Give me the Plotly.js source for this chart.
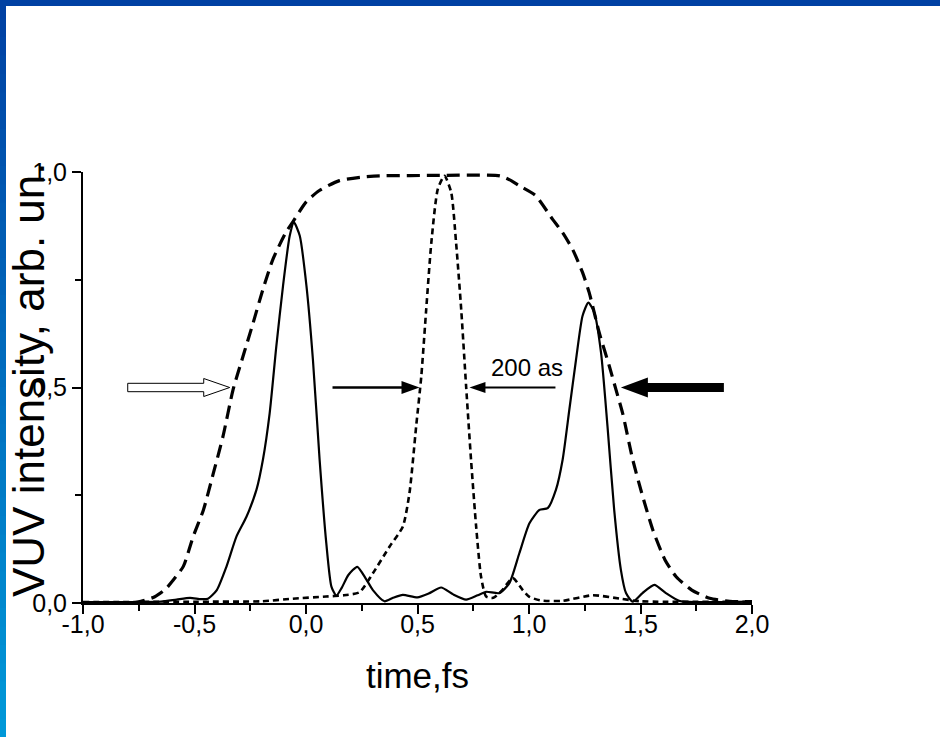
<!DOCTYPE html>
<html>
<head>
<meta charset="utf-8">
<script src="https://cdn.plot.ly/plotly-3.0.1.min.js"></script>
<style>html,body{margin:0;padding:0;background:#fff;}#chart{width:940px;height:737px;}</style>
</head>
<body>
<div id="chart"></div>
<script>
// ---- data ----
const envTime = [-0.78,-0.74,-0.68,-0.63,-0.596,-0.55,-0.506,-0.46,-0.416,-0.372,-0.327,-0.282,-0.237,-0.193,-0.148,-0.09,-0.058,0.0,0.06,0.15,0.25,0.33,0.6,0.87,0.92,0.957,1.03,1.106,1.15,1.196,1.24,1.27,1.315,1.36,1.39,1.42,1.465,1.51,1.555,1.61,1.66,1.73,1.81,1.9,2.0];
const envIntensity = [0.0,0.004,0.014,0.032,0.053,0.085,0.154,0.216,0.30,0.387,0.495,0.573,0.65,0.728,0.798,0.86,0.885,0.93,0.957,0.98,0.988,0.991,0.992,0.991,0.98,0.968,0.945,0.89,0.86,0.82,0.767,0.72,0.627,0.55,0.495,0.44,0.333,0.247,0.17,0.10,0.061,0.03,0.011,0.004,0.003];

const trainTime = [-1.0,-0.8,-0.65,-0.58,-0.52,-0.47,-0.44,-0.40,-0.357,-0.312,-0.267,-0.222,-0.193,-0.163,-0.133,-0.103,-0.073,-0.054,-0.028,0.002,0.031,0.061,0.091,0.114,0.136,0.16,0.19,0.23,0.27,0.30,0.352,0.39,0.434,0.50,0.55,0.606,0.66,0.718,0.77,0.808,0.867,0.912,0.957,1.002,1.047,1.084,1.121,1.151,1.181,1.211,1.24,1.266,1.293,1.323,1.352,1.382,1.412,1.435,1.465,1.509,1.562,1.614,1.673,1.75,2.0];
const trainIntensity = [0.002,0.002,0.003,0.008,0.012,0.009,0.01,0.03,0.084,0.154,0.20,0.263,0.333,0.44,0.596,0.736,0.852,0.883,0.852,0.736,0.565,0.333,0.139,0.038,0.017,0.035,0.065,0.084,0.055,0.03,0.004,0.012,0.019,0.013,0.022,0.036,0.02,0.008,0.018,0.026,0.023,0.046,0.116,0.185,0.216,0.22,0.263,0.333,0.449,0.565,0.666,0.697,0.674,0.581,0.41,0.216,0.077,0.023,0.003,0.023,0.042,0.023,0.005,0.002,0.003];

const attoTime = [-1.0,-0.5,-0.2,-0.06,0.09,0.17,0.24,0.30,0.375,0.434,0.464,0.494,0.517,0.539,0.562,0.591,0.621,0.651,0.673,0.696,0.718,0.74,0.763,0.785,0.808,0.84,0.88,0.927,0.972,1.0,1.05,1.15,1.285,1.41,1.5,2.0];
const attoIntensity = [0.002,0.003,0.004,0.01,0.015,0.018,0.025,0.069,0.131,0.177,0.255,0.41,0.526,0.681,0.836,0.96,0.991,0.953,0.836,0.681,0.503,0.333,0.177,0.061,0.015,0.012,0.03,0.058,0.03,0.015,0.006,0.005,0.018,0.01,0.004,0.003];

const xTickVals = [-1,-0.5,0,0.5,1,1.5,2];
const xTickText = ['-1,0','-0,5','0,0','0,5','1,0','1,5','2,0'];
const xMinorVals = [-0.75,-0.25,0.25,0.75,1.25,1.75];
const yTickVals = [0,0.5,1];
const yTickText = ['0,0','0,5','1,0'];
const yMinorVals = [0.25,0.75];

const xTitle = 'time,fs';
const yTitle = 'VUV intensity, arb. un.';
const widthLabel = '200 as';

// ---- layout geometry ----
const W = 940, H = 737;
const M = {l: 83, r: 188, t: 172, b: 134, pad: 0};
const pw = W - M.l - M.r, ph = H - M.t - M.b;
const pxX = p => (p - M.l) / pw;
const pxY = p => (H - M.b - p) / ph;
const FONT = 'Arial, "Liberation Sans", sans-serif';

const traces = [
  {x: envTime, y: envIntensity, mode: 'lines', line: {color: '#000', width: 3.2, dash: '13px,7px', shape: 'spline', smoothing: 0.6}},
  {x: trainTime, y: trainIntensity, mode: 'lines', line: {color: '#000', width: 2.2, shape: 'spline', smoothing: 0.6}},
  {x: attoTime, y: attoIntensity, mode: 'lines', line: {color: '#000', width: 2.6, dash: '6px,4px', shape: 'spline', smoothing: 0.6}}
];

// decorative slide frame (top bar + gradient left bar)
const shapes = [];
shapes.push({type: 'rect', xref: 'paper', yref: 'paper', x0: pxX(0), x1: pxX(W), y0: pxY(0), y1: pxY(6), fillcolor: '#0041A3', line: {width: 0}, layer: 'above'});
const nSeg = 40;
for (let i = 0; i < nSeg; i++) {
  const f = i / (nSeg - 1);
  const r = 0, g = Math.round(65 + f * (152 - 65)), b = Math.round(163 + f * (216 - 163));
  shapes.push({type: 'rect', xref: 'paper', yref: 'paper', x0: pxX(0), x1: pxX(6),
    y0: pxY(i * H / nSeg), y1: pxY((i + 1) * H / nSeg + 1), fillcolor: `rgb(${r},${g},${b})`, line: {width: 0}, layer: 'above'});
}

// arrows (pixel-sized shapes anchored at their tips in data coordinates)
const arrowTip = (x, y, path, fill, lw) => ({type: 'path', xref: 'x', yref: 'y', xsizemode: 'pixel', ysizemode: 'pixel',
  xanchor: x, yanchor: y, path: path, fillcolor: fill, line: {color: '#000', width: lw}, layer: 'above'});
shapes.push(arrowTip(-0.342, 0.5, 'M0,0 L-26,9 L-26,4.2 L-102,4.2 L-102,-4.2 L-26,-4.2 L-26,-9 Z', '#fff', 1));
shapes.push(arrowTip(0.509, 0.5, 'M0,0 L-18,6.5 L-18,1.3 L-87,1.3 L-87,-1.3 L-18,-1.3 L-18,-6.5 Z', '#000', 0));
shapes.push(arrowTip(0.733, 0.5, 'M0,0 L16,5.5 L16,1.1 L86,1.1 L86,-1.1 L16,-1.1 L16,-5.5 Z', '#000', 0));
shapes.push(arrowTip(1.412, 0.5, 'M0,0 L27,10 L27,4.5 L103,4.5 L103,-4.5 L27,-4.5 L27,-10 Z', '#000', 0));

const annotations = [
  {xref: 'paper', yref: 'paper', x: pxX(28), y: pxY(380), text: yTitle, textangle: -90, showarrow: false,
   xanchor: 'center', yanchor: 'middle', font: {family: FONT, size: 44, color: '#000'}},
  {xref: 'x', yref: 'y', x: 0.993, y: 0.547, text: widthLabel, showarrow: false,
   xanchor: 'center', yanchor: 'middle', font: {family: FONT, size: 24, color: '#000'}}
];

const axisCommon = {showgrid: false, zeroline: false, showline: true, linecolor: '#000', linewidth: 2,
  ticks: 'outside', ticklen: 9, tickwidth: 2, tickcolor: '#000',
  tickfont: {family: FONT, size: 25, color: '#000'}, fixedrange: true};

const layout = {
  width: W, height: H, margin: M, paper_bgcolor: '#fff', plot_bgcolor: '#fff', showlegend: false,
  xaxis: Object.assign({}, axisCommon, {range: [-1, 2], tickmode: 'array', tickvals: xTickVals, ticktext: xTickText,
    ticklabelstandoff: -11,
    minor: {tickvals: xMinorVals, ticks: 'outside', ticklen: 6, tickwidth: 2, tickcolor: '#000', showgrid: false},
    title: {text: xTitle, font: {family: FONT, size: 35, color: '#000'}, standoff: 26}}),
  yaxis: Object.assign({}, axisCommon, {range: [0, 1], tickmode: 'array', tickvals: yTickVals, ticktext: yTickText,
    minor: {tickvals: yMinorVals, ticks: 'outside', ticklen: 6, tickwidth: 2, tickcolor: '#000', showgrid: false}}),
  shapes: shapes, annotations: annotations
};

Plotly.newPlot('chart', traces, layout, {staticPlot: true, displayModeBar: false});
</script>
</body>
</html>
